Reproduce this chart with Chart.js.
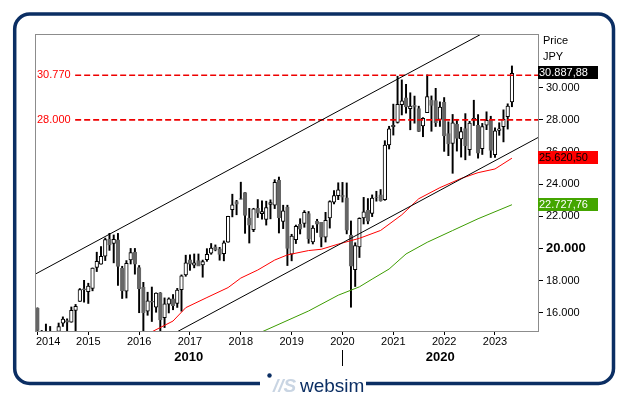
<!DOCTYPE html>
<html>
<head>
<meta charset="utf-8">
<script src="https://cdn.jsdelivr.net/npm/chart.js@4.4.0/dist/chart.umd.min.js"></script>
<style>
html,body{margin:0;padding:0;background:#fff;}
canvas{display:block;}
</style>
</head>
<body>
<canvas id="chart" width="627" height="398"></canvas>
<script>
// monthly candles, index 0 = Jan 2014
const opens = [
  16291,14801,14755,14791,14457,14858,15369,15523,15437,16167,16720,17502,
  17325,17520,18826,19034,19537,20571,20329,20548,18780,17350,19295,19790,
  18818,17600,16110,16719,16357,17256,15707,16556,16880,16600,17442,18360,
  19298,18976,19260,18983,19310,19722,20105,19985,19689,20400,22420,22916,
  23073,23486,21901,21180,22508,22171,21812,22746,22707,24245,21687,22574,
  19655,20553,21509,21566,22184,20410,21699,21631,20707,21910,22891,23296,
  23319,23160,20849,18686,20105,21910,22379,22195,23190,23339,23045,26445,
  27575,27850,28940,29370,28700,28904,28707,27625,28451,29235,29203,28030,
  29098,27155,26545,27736,26818,27457,26153,27993,27661,26215,27678,27983,
  25834,27347,27571,28202,29123
];
const highs = [
  16321,14918,15312,15164,14632,15376,15759,15640,16374,16533,17520,18030,
  17850,18800,19778,20133,20655,20952,20850,20946,18904,19257,20012,20012,
  18951,17905,17291,17613,17251,17271,16938,16944,17147,17530,18368,19592,
  19615,19668,19668,19289,19998,20318,20230,20080,20481,22012,23382,23000,
  24129,23486,22502,22508,23050,22967,22949,23032,24286,24448,22698,22698,
  20892,21464,21860,22362,22307,21430,21823,21631,22255,22974,23608,24092,
  24116,24083,21719,20366,21916,23185,23111,23338,23564,23672,26706,27602,
  28979,30714,30485,30208,29685,29480,28852,28139,30795,29490,29960,29121,
  29388,27880,28338,28038,27541,28389,27914,29222,28330,27782,28502,28226,
  27500,27822,28623,28999,31352
];
const lows = [
  14549,13995,14203,13885,13964,14858,15164,14753,15426,14529,16720,16672,
  16592,17377,18575,19034,19258,19891,19115,17714,16901,16930,19045,18413,
  16017,14865,15858,15471,16046,14864,15095,16003,16201,16345,16111,18280,
  18650,18805,18977,18224,19211,19648,19862,19280,19239,20397,21972,22103,
  23073,20950,20347,21056,21931,21825,21462,21851,22487,20971,21243,18948,
  19241,20315,20911,21327,20331,20289,21003,20110,20408,21276,22783,23044,
  22892,20916,16358,17646,19448,21531,21540,21989,22948,22948,23000,26191,
  27055,27800,28308,28419,27385,27796,27273,26954,28451,27293,27589,27594,
  26044,25776,24681,26061,25688,25520,25794,27650,25621,25850,27390,25661,
  25662,27040,26632,27428,28817
];
const closes = [
  14914,14841,14827,14304,14632,15162,15621,15425,16173,16413,17459,17450,
  17674,18797,19206,19520,20563,20235,20585,18890,17388,19083,19747,19033,
  17518,16027,16759,16666,17235,15575,16569,16887,16450,17425,18308,19114,
  19041,19119,18909,19197,19651,20033,19925,19646,20356,22011,22725,22765,
  23098,22068,21454,22468,22202,22305,22554,22865,24120,21920,22351,20015,
  20773,21385,21206,22259,20601,21276,21522,20704,21756,22927,23294,23657,
  23205,21143,18917,20194,21878,22288,21710,23140,23185,22977,26434,27444,
  27663,28966,29179,28813,28860,28792,27284,28090,29453,28893,27822,28792,
  27002,26527,27821,26848,27280,26393,27802,28092,25937,27587,27969,26095,
  27327,27446,28041,28856,30888
];

// moving averages (month index, value)
const redMaMonths = [27,32,35,40,45,48,52,56,59,64,67,71,76,81,86,90,95,100,104,108,112];
const redMaValues = [14830,15500,16330,16960,17580,18170,18670,19290,19610,19880,19960,20280,20640,21130,22100,23100,23790,24360,24720,24950,25620];
const greenMaMonths = [53,64,71,76,79,83,87,92,98,104,112];
const greenMaValues = [14830,16125,17106,17625,18106,18731,19669,20394,21125,21856,22728];

// channel lines
const upperTrend = [[-1,18346],[110,34075]];
const lowerTrend = [[30,14412],[119,27023]];

// horizontal levels
const levels = [30770, 28000];
const levelLabels = ['30.770', '28.000'];
const levelStart = 8.9;

const yearTicks = [0,12,24,36,48,60,72,84,96,108];
const yearLabels = ['2014','2015','2016','2017','2018','2019','2020','2021','2022','2023'];
const decadeLabels = ['2010','2020'];
const decadeSplit = 72;
const priceTicks = [16000,18000,20000,22000,24000,26000,28000,30000];

const lastPrice = 30887.88, lastRed = 25620.50, lastGreen = 22727.76;

const xMin = -0.58, xMax = 118.15;

function fmtThousands(v, dec){
  const neg = v < 0;
  let s = Math.abs(v).toFixed(dec || 0);
  let [ip, fp] = s.split('.');
  ip = ip.replace(/\B(?=(\d{3})+(?!\d))/g, '.');
  return (neg ? '-' : '') + ip + (fp ? ',' + fp : '');
}

const UP = '#ffffff', DOWN = '#666666';
const bodies = opens.map((o, i) => ({x: i, y: [o, closes[i]]}));
const wicks = lows.map((l, i) => ({x: i, y: [l, highs[i]]}));
const bodyFill = opens.map((o, i) => closes[i] >= o ? UP : DOWN);
const bodyLine = opens.map((o, i) => closes[i] >= o ? '#000000' : DOWN);

const FONT = "'Liberation Sans', Arial, sans-serif";

const overlay = {
  id: 'overlay',
  afterDraw(chart){
    const {ctx, chartArea: a, scales: {x, y}} = chart;
    ctx.save();

    // plot frame
    ctx.strokeStyle = '#8c8c8c';
    ctx.lineWidth = 1;
    ctx.strokeRect(a.left + 0.5, a.top + 0.5, a.right - a.left, a.bottom - a.top);

    // level labels
    ctx.font = '11px ' + FONT;
    ctx.fillStyle = '#ff0000';
    ctx.textBaseline = 'middle';
    ctx.textAlign = 'left';
    levels.forEach((lv, i) => ctx.fillText(levelLabels[i], a.left + 2, y.getPixelForValue(lv)));

    // year labels
    ctx.fillStyle = '#000';
    yearTicks.forEach((t, i) => {
      const px = x.getPixelForValue(t);
      const w = ctx.measureText(yearLabels[i]).width;
      let lx = px - w / 2;
      if(lx < a.left + 1) lx = a.left + 1;
      ctx.fillText(yearLabels[i], lx, 342);
    });

    // decades
    const split = x.getPixelForValue(decadeSplit);
    ctx.font = 'bold 13px ' + FONT;
    ctx.textAlign = 'center';
    ctx.fillText(decadeLabels[0], (a.left + split) / 2, 357);
    ctx.fillText(decadeLabels[1], (split + a.right) / 2, 357);
    ctx.beginPath();
    ctx.moveTo(Math.round(split) + 0.5, 350);
    ctx.lineTo(Math.round(split) + 0.5, 366);
    ctx.strokeStyle = '#000';
    ctx.stroke();

    // price header
    ctx.font = '11px ' + FONT;
    ctx.textAlign = 'left';
    ctx.fillText('Price', a.right + 5, 41);
    ctx.fillText('JPY', a.right + 5, 57);

    // value boxes
    function box(val, bg, fg){
      const py = Math.round(y.getPixelForValue(val));
      const txt = fmtThousands(val, 2);
      ctx.fillStyle = bg;
      ctx.fillRect(a.right, py - 7, 60, 13);
      ctx.fillStyle = fg;
      ctx.fillText(txt, a.right + 1, py);
    }
    box(lastPrice, '#000000', '#ffffff');
    box(lastRed, '#ff0000', '#000000');
    box(lastGreen, '#44a500', '#ffffff');

    // outer frame
    ctx.strokeStyle = '#0b2e63';
    ctx.lineWidth = 3.5;
    ctx.beginPath();
    ctx.roundRect(14.7, 14, 598.8, 369.5, 15);
    ctx.stroke();
    ctx.fillStyle = '#fff';
    ctx.fillRect(260, 378, 106, 10);

    // logo
    ctx.fillStyle = '#0b2e63';
    ctx.beginPath();
    ctx.arc(269.5, 375.5, 2.2, 0, Math.PI * 2);
    ctx.fill();
    ctx.font = 'italic bold 19px ' + FONT;
    ctx.fillStyle = '#c9d5e3';
    ctx.textBaseline = 'alphabetic';
    ctx.fillText('//S', 273, 392);
    ctx.font = '19px ' + FONT;
    ctx.fillStyle = '#0b2e63';
    ctx.fillText('websim', 300, 392);

    ctx.restore();
  }
};

const lineDs = (pts, color, width, dash) => ({
  type: 'line',
  data: pts,
  borderColor: color,
  borderWidth: width,
  borderDash: dash || [],
  pointRadius: 0,
  tension: 0,
  fill: false,
  order: 0
});

new Chart(document.getElementById('chart'), {
  type: 'bar',
  data: {
    datasets: [
      lineDs(upperTrend.map(p => ({x: p[0], y: p[1]})), '#000', 1),
      lineDs(lowerTrend.map(p => ({x: p[0], y: p[1]})), '#000', 1),
      lineDs(redMaMonths.map((m, i) => ({x: m, y: redMaValues[i]})), '#ff0000', 1),
      lineDs(greenMaMonths.map((m, i) => ({x: m, y: greenMaValues[i]})), '#3c9c00', 1),
      ...levels.map(lv => lineDs([{x: levelStart, y: lv}, {x: xMax, y: lv}], '#ee0000', 1.6, [6, 3])),
      {
        type: 'bar', data: bodies, backgroundColor: bodyFill, borderColor: bodyLine,
        borderWidth: 1, borderSkipped: false, barThickness: 3.6, grouped: false, order: 1
      },
      {
        type: 'bar', data: wicks, backgroundColor: '#000', borderWidth: 0,
        barThickness: 1.3, grouped: false, order: 2
      }
    ]
  },
  options: {
    responsive: false,
    animation: false,
    layout: {padding: {left: 35, top: 34, right: 0, bottom: 0}},
    plugins: {legend: {display: false}, tooltip: {enabled: false}},
    scales: {
      x: {
        type: 'linear', min: xMin, max: xMax, offset: false,
        afterBuildTicks: s => { s.ticks = yearTicks.map(v => ({value: v})); },
        afterFit: s => { s.height = 67; },
        border: {display: false},
        grid: {drawOnChartArea: false, drawTicks: true, tickLength: 4, tickColor: '#000', offset: false},
        ticks: {display: false}
      },
      y: {
        position: 'right', min: 14881, max: 33337,
        afterBuildTicks: s => { s.ticks = priceTicks.map(v => ({value: v})); },
        afterFit: s => { s.width = 89; },
        border: {display: false},
        grid: {drawOnChartArea: false, tickLength: 5, tickColor: '#000'},
        ticks: {
          padding: 3, color: '#000',
          font: ctx => ctx.tick && ctx.tick.value === 20000
            ? {family: FONT, size: 13, weight: 'bold'}
            : {family: FONT, size: 11},
          callback: v => fmtThousands(v)
        }
      }
    }
  },
  plugins: [overlay]
});
</script>
</body>
</html>
